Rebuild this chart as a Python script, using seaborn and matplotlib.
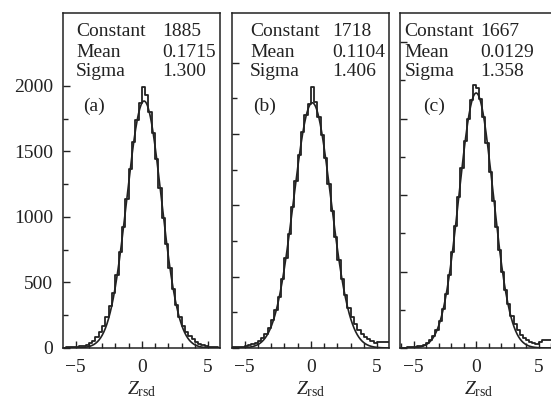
import numpy as np
import pandas as pd
import matplotlib
matplotlib.use('Agg')
import matplotlib.pyplot as plt
import seaborn as sns
from matplotlib.ticker import FixedLocator

# bin centers of the Z_rsd histograms (width 0.25, from -6 to 6)
bin_centers = np.arange(-5.875, 6.0, 0.25)

# counts per bin
counts_a = [3, 4, 6, 8, 10, 14, 18, 25, 35, 55, 85, 120,
            170, 240, 320, 420, 560, 730, 920, 1140, 1370, 1570, 1740, 1870,
            1995, 1930, 1800, 1640, 1440, 1220, 990, 790, 610, 450, 330, 240,
            170, 125, 90, 65, 45, 32, 22, 15, 10, 7, 5, 3]
counts_b = [5, 6, 8, 10, 14, 18, 25, 35, 50, 70, 100, 140,
            195, 265, 360, 480, 630, 800, 990, 1170, 1350, 1510, 1630, 1710,
            1830, 1720, 1620, 1490, 1330, 1150, 960, 780, 620, 480, 370, 280,
            215, 165, 125, 95, 75, 60, 48, 38, 45, 45, 40, 40]
counts_c = [2, 3, 4, 5, 7, 10, 15, 22, 32, 50, 80, 120,
            175, 255, 355, 480, 630, 800, 985, 1175, 1350, 1500, 1620, 1720,
            1700, 1630, 1510, 1340, 1150, 960, 790, 640, 500, 380, 290, 210,
            155, 115, 85, 65, 50, 40, 32, 26, 40, 50, 50, 50]

# Gaussian fit parameters shown in each panel
panel_tags = ['(a)', '(b)', '(c)']
fit_constant = [1885, 1718, 1667]
fit_mean = [0.1715, 0.1104, 0.0129]
fit_sigma = [1.300, 1.406, 1.358]
fit_text = [('1885', '0.1715', '1.300'),
            ('1718', '0.1104', '1.406'),
            ('1667', '0.0129', '1.358')]

all_counts = [counts_a, counts_b, counts_c]

sns.set_style('ticks')
plt.rcParams['font.family'] = ['Liberation Serif', 'DejaVu Serif']
plt.rcParams['mathtext.fontset'] = 'custom'
plt.rcParams['mathtext.rm'] = 'Liberation Serif'
plt.rcParams['mathtext.it'] = 'Liberation Serif:italic'

ink = '#222222'
fig = plt.figure(figsize=(5.51, 4.05), dpi=100)
W, H = 551, 405

lefts = [63, 232, 400]
# each panel has its own scale
xlims = [(-5.95, 5.9), (-5.95, 5.9), (-6.08, 6.48)]
ytops = [2557, 2347, 2190]
# text x positions (axes fraction) for each panel
label_x = [0.083, 0.115, 0.03]
value_x = [0.63, 0.637, 0.51]
tag_x = [0.127, 0.134, 0.146]

xfit = np.linspace(-6, 6, 400)

for i in range(3):
    ax = fig.add_axes([lefts[i] / W, (H - 348) / H, 157 / W, 335 / H])
    df = pd.DataFrame({'z': bin_centers, 'n': all_counts[i]})
    sns.histplot(data=df, x='z', weights='n', binwidth=0.25, binrange=(-6, 6),
                 element='step', fill=False, color=ink, linewidth=1.3, ax=ax)
    yfit = fit_constant[i] * np.exp(-(xfit - fit_mean[i]) ** 2 / (2 * fit_sigma[i] ** 2))
    sns.lineplot(x=xfit, y=yfit, color=ink, linewidth=1.2, ax=ax)

    ax.set_xlim(*xlims[i])
    ax.set_ylim(0, ytops[i])
    ax.xaxis.set_major_locator(FixedLocator([-5, 0, 5]))
    ax.xaxis.set_minor_locator(FixedLocator(range(-6, 7)))
    ax.yaxis.set_major_locator(FixedLocator([0, 500, 1000, 1500, 2000]))
    ax.yaxis.set_minor_locator(FixedLocator([250, 750, 1250, 1750]))
    ax.tick_params(which='both', direction='in', color=ink, width=1.0,
                   labelsize=14, labelcolor=ink)
    ax.tick_params(which='major', length=5)
    ax.tick_params(which='minor', length=3.5)
    ax.tick_params(axis='x', pad=8)
    ax.tick_params(axis='y', pad=7)
    ax.set_xticks([-5, 0, 5])
    ax.set_xticklabels(['\u22125', '0', '5'])
    if i > 0:
        ax.set_yticklabels([])
    ax.set_ylabel('')
    ax.set_xlabel(r'$Z_{\mathrm{rsd}}$', fontsize=14, color=ink, labelpad=2)
    for sp in ax.spines.values():
        sp.set_color(ink)
        sp.set_linewidth(1.1)

    names = ['Constant', 'Mean', 'Sigma']
    ys = [0.931, 0.869, 0.812]
    for name, val, yy in zip(names, fit_text[i], ys):
        ax.text(label_x[i], yy, name, transform=ax.transAxes, fontsize=14,
                color=ink, va='baseline')
        ax.text(value_x[i], yy, val, transform=ax.transAxes, fontsize=14,
                color=ink, va='baseline')
    ax.text(tag_x[i], 0.707, panel_tags[i], transform=ax.transAxes,
            fontsize=14, color=ink, va='baseline')

fig.savefig('out.png', dpi=100)
